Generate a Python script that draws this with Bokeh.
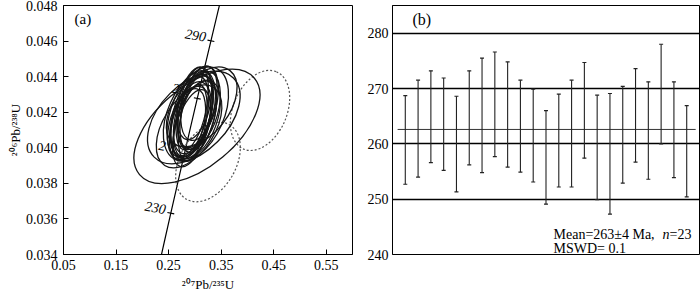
import math
from bokeh.plotting import figure
from bokeh.models import Range1d, FixedTicker, Label, PrintfTickFormatter
from bokeh.layouts import row
from bokeh.embed import file_html
from bokeh.resources import INLINE

FONT = "'Liberation Serif', 'Times New Roman', serif"

# ---------------- data: concordia (a) ----------------
conc_age = [210, 220, 230, 240, 250, 260, 270, 280, 290, 300, 310]
conc_x = [0.22976, 0.24193, 0.25422, 0.26664, 0.27917, 0.29183, 0.30462, 0.31753, 0.33057, 0.34374, 0.35704]
conc_y = [0.033113, 0.034717, 0.036323, 0.037932, 0.039543, 0.041157, 0.042774, 0.044392, 0.046013, 0.047638, 0.049264]
conc_tick_age = [230, 250, 270, 290]
conc_label_full = ["230", "290"]
conc_label_part = {"250": "2", "270": "2"}

x_ticks_a = [0.05, 0.15, 0.25, 0.35, 0.45, 0.55]
y_ticks_a = [0.034, 0.036, 0.038, 0.040, 0.042, 0.044, 0.046, 0.048]
x_title_a = "²⁰⁷Pb/²³⁵U"
y_title_a = "²⁰⁶Pb/²³⁸U"

# error ellipses (solid = used, n=23)
ell_x = [0.297, 0.301, 0.292, 0.305, 0.289, 0.298, 0.303, 0.290, 0.308, 0.295, 0.300, 0.286,
         0.309, 0.294, 0.299, 0.293, 0.304, 0.296, 0.304, 0.298, 0.302, 0.289, 0.313]
ell_y = [0.0419, 0.0421, 0.0416, 0.0423, 0.0414, 0.0417, 0.0419, 0.0418, 0.0421, 0.0422, 0.0415, 0.0413,
         0.0425, 0.0411, 0.0425, 0.0419, 0.0416, 0.0414, 0.0412, 0.0417, 0.0419, 0.0412, 0.0423]
ell_w = [0.1560, 0.1522, 0.1484, 0.1598, 0.1446, 0.1637, 0.1484, 0.1560, 0.1522, 0.1598, 0.1598, 0.1408,
         0.1446, 0.1522, 0.1408, 0.1713, 0.1560, 0.1484, 0.2854, 0.2131, 0.1903, 0.1751, 0.1751]
ell_h = [0.001904, 0.001792, 0.002016, 0.001904, 0.002128, 0.002240, 0.001680, 0.001904, 0.002128, 0.001568,
         0.002016, 0.001792, 0.001904, 0.001792, 0.001792, 0.002352, 0.002240, 0.001456, 0.004500, 0.003808,
         0.003136, 0.002912, 0.003024]
ell_ang = [74, 77, 73, 75, 72, 73, 79, 76, 74, 78, 71, 75, 76, 73, 78, 72, 70, 80, 40, 45, 66, 58, 52]

# excluded analyses (dashed)
dash_x = [0.424, 0.325]
dash_y = [0.0421, 0.0392]
dash_w = [0.1598, 0.1637]
dash_h = [0.003024, 0.003136]
dash_ang = [67, 60]

# ---------------- data: weighted mean (b) ----------------
spot = list(range(1, 24))
age = [260.7, 262.75, 264.9, 263.55, 259.95, 264.7, 265.15, 267.15, 265.3, 263.2, 261.5, 257.55,
       260.6, 261.85, 266.05, 259.35, 258.2, 261.65, 265.15, 262.4, 269.0, 262.55, 258.65]
err = [8.0, 8.75, 8.3, 8.35, 8.65, 8.5, 10.35, 9.45, 9.5, 8.3, 8.4, 8.45,
       8.4, 9.65, 8.65, 9.45, 10.9, 8.75, 8.45, 8.8, 9.0, 8.65, 8.25]
mean_age = 262.6
y_ticks_b = [240, 250, 260, 270, 280]

# ---------------- helpers (pixel -> data for annotations) ----------------
def ax_x(px):
    return 0.05 + (px - 63) / 525.5

def ax_y(py):
    return 0.048 - (py - 5) / 17857.1

def bx_x(px):
    return (px - 392) / (307 / 24)

def bx_y(py):
    return 285 - (py - 5) / (250 / 45)


def style_common(p):
    p.grid.visible = False
    p.outline_line_color = "black"
    p.outline_line_width = 1
    p.background_fill_color = "white"
    p.border_fill_color = "white"
    for ax in p.axis:
        ax.axis_line_color = "black"
        ax.major_tick_line_color = "black"
        ax.minor_tick_line_color = None
        ax.major_label_text_font = FONT
        ax.major_label_text_font_size = "14px"
        ax.major_label_text_color = "black"
        ax.major_label_text_font_style = "normal"


# ---------------- panel (a) ----------------
p1 = figure(width=356, height=294, x_range=Range1d(0.05, 0.6), y_range=Range1d(0.034, 0.048),
            output_backend="svg", toolbar_location=None,
            min_border_left=63, min_border_right=4, min_border_top=5, min_border_bottom=39)
style_common(p1)
p1.xaxis.ticker = FixedTicker(ticks=x_ticks_a)
p1.yaxis.ticker = FixedTicker(ticks=y_ticks_a)
p1.xaxis.formatter = PrintfTickFormatter(format="%.2f")
p1.yaxis.formatter = PrintfTickFormatter(format="%.3f")
for ax in p1.axis:
    ax.major_tick_in = 5
    ax.major_tick_out = 0
    ax.axis_label_text_font = FONT
    ax.axis_label_text_font_size = "13px"
    ax.axis_label_text_font_style = "normal"
    ax.axis_label_text_color = "black"
    ax.axis_label_standoff = 0
p1.xaxis.axis_label = x_title_a
p1.yaxis.axis_label = y_title_a
p1.xaxis.axis_label_standoff = 4
p1.xaxis.major_label_standoff = 5
p1.yaxis.major_label_standoff = 6

p1.line(conc_x, conc_y, line_color="black", line_width=1.2)
tx = [conc_x[conc_age.index(a)] for a in conc_tick_age]
ty = [conc_y[conc_age.index(a)] for a in conc_tick_age]
p1.scatter(tx, ty, marker="dash", size=7, line_color="black", line_width=1.1, angle=-0.2)

p1.ellipse(x=dash_x, y=dash_y, width=dash_w, height=dash_h, angle=[math.radians(a) for a in dash_ang],
           fill_color=None, line_color="#555555", line_width=1.2, line_dash="2 2")
p1.ellipse(x=ell_x, y=ell_y, width=ell_w, height=ell_h, angle=[math.radians(a) for a in ell_ang],
           fill_color=None, line_color="#151515", line_width=1.3)

for lab in conc_label_full:
    i = conc_age.index(int(lab))
    p1.add_layout(Label(x=conc_x[i], y=conc_y[i], text=lab, text_font=FONT, text_font_size="14px",
                        text_font_style="italic", text_align="right", text_baseline="middle",
                        x_offset=-5, y_offset=4, angle=-0.17, text_color="black"))
for lab, shown in conc_label_part.items():
    i = conc_age.index(int(lab))
    p1.add_layout(Label(x=conc_x[i], y=conc_y[i], text=shown, text_font=FONT, text_font_size="14px",
                        text_font_style="italic", text_align="left", text_baseline="middle",
                        x_offset=-25, y_offset=11, angle=-0.17, text_color="black"))

p1.add_layout(Label(x=ax_x(74), y=ax_y(19), text="(a)", text_font=FONT, text_font_size="15px",
                    text_baseline="middle", text_color="black"))

# ---------------- panel (b) ----------------
p2 = figure(width=344, height=294, x_range=Range1d(0, 24), y_range=Range1d(240, 285),
            output_backend="svg", toolbar_location=None,
            min_border_left=36, min_border_right=1, min_border_top=5, min_border_bottom=39)
style_common(p2)
p2.xaxis.visible = False
p2.yaxis.ticker = FixedTicker(ticks=y_ticks_b)
p2.yaxis.major_tick_in = 0
p2.yaxis.major_tick_out = 0
p2.yaxis.major_label_standoff = 4
p2.ygrid.visible = True
p2.ygrid.ticker = FixedTicker(ticks=y_ticks_b)
p2.ygrid.grid_line_color = "black"
p2.ygrid.grid_line_width = 1.7

p2.segment(x0=0.4, x1=23.7, y0=mean_age, y1=mean_age, line_color="#333333", line_width=1)
lo = [a - e for a, e in zip(age, err)]
hi = [a + e for a, e in zip(age, err)]
p2.segment(x0=spot, x1=spot, y0=lo, y1=hi, line_color="#222222", line_width=1.1)
p2.scatter(spot, lo, marker="dash", size=4, line_color="#222222", line_width=1.2)
p2.scatter(spot, hi, marker="dash", size=4, line_color="#222222", line_width=1.2)

p2.add_layout(Label(x=bx_x(412), y=bx_y(19), text="(b)", text_font=FONT, text_font_size="16px",
                    text_baseline="middle", text_color="black"))
p2.add_layout(Label(x=bx_x(553), y=bx_y(235), text="Mean=263±4 Ma,", text_font=FONT,
                    text_font_size="14px", text_baseline="alphabetic", text_color="black"))
p2.add_layout(Label(x=bx_x(662), y=bx_y(235), text="n", text_font=FONT, text_font_style="italic",
                    text_font_size="14px", text_baseline="alphabetic", text_color="black"))
p2.add_layout(Label(x=bx_x(669), y=bx_y(235), text="=23", text_font=FONT,
                    text_font_size="14px", text_baseline="alphabetic", text_color="black"))
p2.add_layout(Label(x=bx_x(553), y=bx_y(249), text="MSWD= 0.1", text_font=FONT,
                    text_font_size="14px", text_baseline="alphabetic", text_color="black"))

layout = row(p1, p2)

with open("out.html", "w") as f:
    f.write(file_html(layout, INLINE))
